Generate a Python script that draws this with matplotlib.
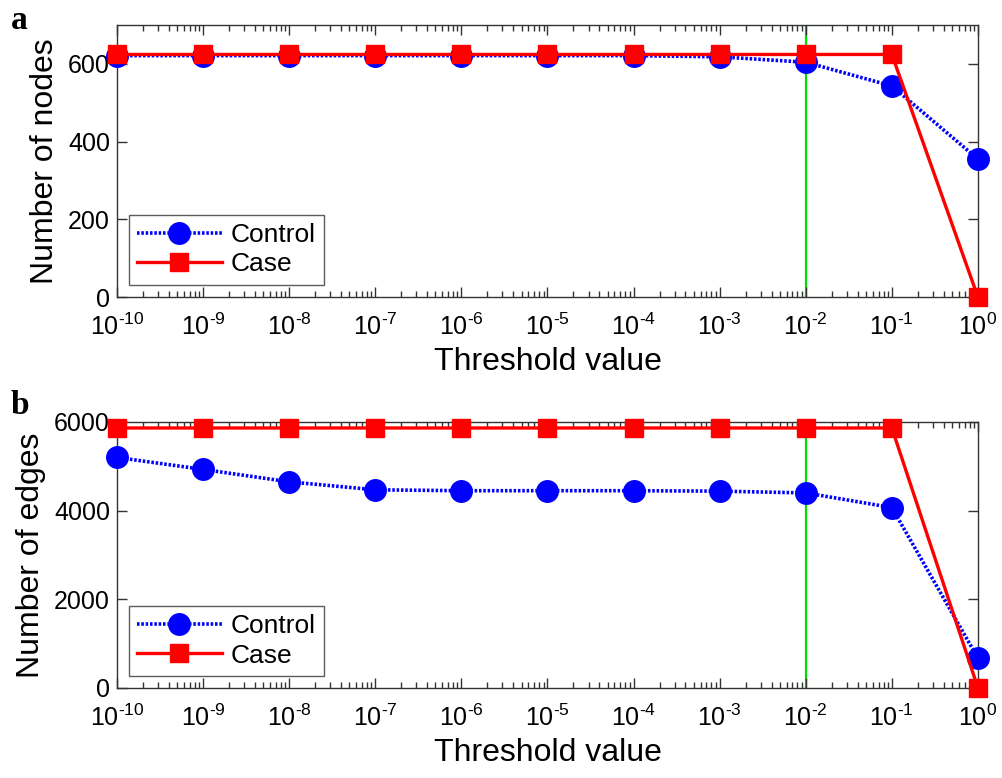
import matplotlib
matplotlib.use("Agg")
import matplotlib.pyplot as plt
import numpy as np
from matplotlib.ticker import LogLocator, NullFormatter

plt.rcParams['font.family'] = ['Liberation Sans', 'DejaVu Sans']
plt.rcParams['mathtext.fontset'] = 'custom'
plt.rcParams['mathtext.rm'] = 'Liberation Sans'
plt.rcParams['mathtext.it'] = 'Liberation Sans'

thresholds = [1e-10, 1e-9, 1e-8, 1e-7, 1e-6, 1e-5, 1e-4, 1e-3, 1e-2, 1e-1, 1e0]
nodes_control = [621, 621, 621, 621, 621, 621, 621, 618, 604, 543, 355]
nodes_case = [624, 624, 624, 624, 624, 624, 624, 624, 624, 624, 0]
edges_control = [5200, 4930, 4650, 4470, 4450, 4450, 4450, 4440, 4400, 4070, 670]
edges_case = [5865, 5865, 5865, 5865, 5865, 5865, 5865, 5865, 5865, 5865, 0]
exponents = ['\u201010', '\u20109', '\u20108', '\u20107', '\u20106', '\u20105',
             '\u20104', '\u20103', '\u20102', '\u20101', '0']
xtick_labels = [r'$10^{\mathregular{%s}}$' % e for e in exponents]
green_x = 1e-2

fig = plt.figure(figsize=(10.02, 7.78), dpi=100)
ax1 = fig.add_axes([0.1168, 0.618, 0.8592, 0.350])
ax2 = fig.add_axes([0.1168, 0.1157, 0.8592, 0.3419])

def style(ax, yvals_c, yvals_k, ylim, yticks, ylabel):
    ax.axvline(green_x, color='#00e000', lw=1.6, zorder=1)
    ax.plot(thresholds, yvals_c, color='#0000ff', ls=(0, (0.7, 0.5)), lw=2.6,
            marker='o', ms=15.5, mfc='#0000ff', mec='#0000ff', label='Control',
            zorder=3, clip_on=False)
    ax.plot(thresholds, yvals_k, color='#ff0000', ls='-', lw=2.4,
            marker='s', ms=12.5, mfc='#ff0000', mec='#ff0000', label='Case',
            zorder=4, clip_on=False)
    ax.set_xscale('log')
    ax.set_xlim(1e-10, 1)
    ax.set_ylim(*ylim)
    ax.set_yticks(yticks)
    ax.set_xticks(thresholds)
    ax.set_xticklabels(xtick_labels)
    ax.xaxis.set_minor_locator(LogLocator(base=10, subs=np.arange(2, 10), numticks=100))
    ax.xaxis.set_minor_formatter(NullFormatter())
    ax.tick_params(axis='both', which='both', direction='in', top=True, right=True,
                   labelsize=18, width=1, color='#333333')
    ax.tick_params(which='major', length=7)
    ax.tick_params(which='minor', length=4)
    ax.tick_params(axis='x', which='major', pad=12)
    ax.tick_params(axis='y', which='major', pad=5)
    for s in ax.spines.values():
        s.set_color('#333333')
        s.set_linewidth(1)
    ax.set_xlabel('Threshold value', fontsize=23, labelpad=5)
    ax.set_ylabel(ylabel, fontsize=23, labelpad=6)
    leg = ax.legend(loc='lower left', bbox_to_anchor=(0.0135, 0.045), borderaxespad=0,
                    fontsize=19, frameon=True, fancybox=False, edgecolor='#333333',
                    handlelength=3.2, borderpad=0.32, labelspacing=0.2, handletextpad=0.35)
    leg.get_frame().set_linewidth(1)

style(ax1, nodes_control, nodes_case, (0, 700), [0, 200, 400, 600], 'Number of nodes')
style(ax2, edges_control, edges_case, (0, 6000), [0, 2000, 4000, 6000], 'Number of edges')

fig.text(0.011, 0.993, 'a', fontsize=24, fontweight='bold', family='Liberation Serif', va='top')
fig.text(0.011, 0.499, 'b', fontsize=24, fontweight='bold', family='Liberation Serif', va='top')

fig.savefig('out.png', dpi=100)
